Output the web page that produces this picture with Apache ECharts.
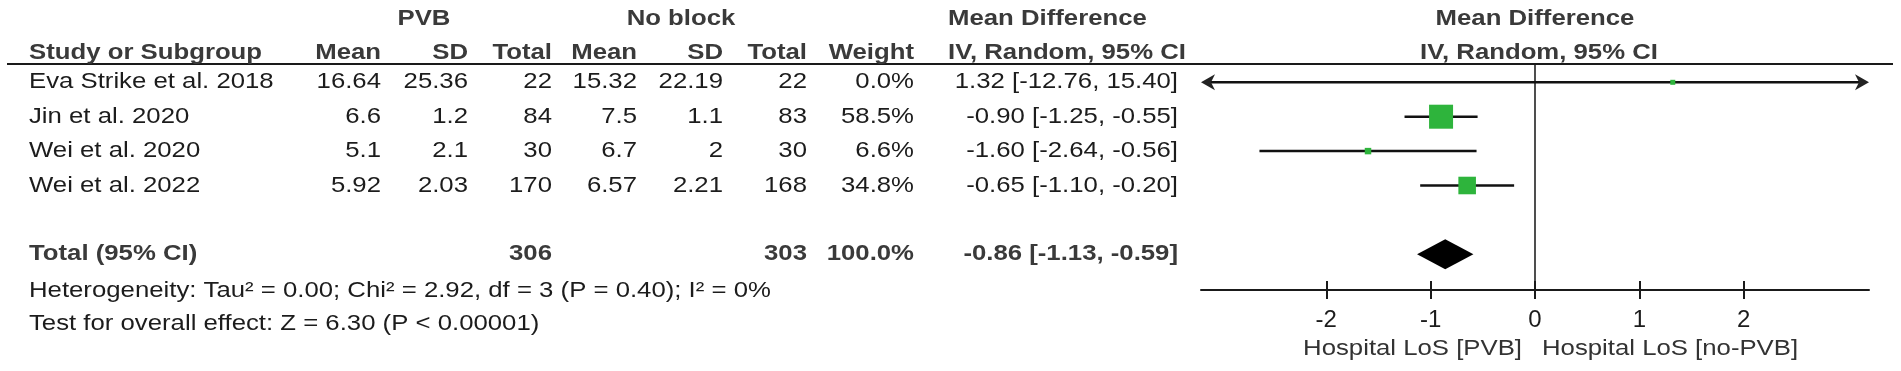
<!DOCTYPE html>
<html>
<head>
<meta charset="utf-8">
<script src="https://cdn.jsdelivr.net/npm/echarts@6/dist/echarts.min.js"></script>
<style>
  html, body { margin: 0; padding: 0; background: #fff; }
  #chart { width: 1901px; height: 371px; }
</style>
</head>
<body>
<div id="chart"></div>
<script>
// ---- data ----
const studies = ['Eva Strike et al. 2018', 'Jin et al. 2020', 'Wei et al. 2020', 'Wei et al. 2022'];
const pvbMean = [16.64, 6.6, 5.1, 5.92];
const pvbSd = [25.36, 1.2, 2.1, 2.03];
const pvbTotal = [22, 84, 30, 170];
const noBlockMean = [15.32, 7.5, 6.7, 6.57];
const noBlockSd = [22.19, 1.1, 2, 2.21];
const noBlockTotal = [22, 83, 30, 168];
const weights = [0.0, 58.5, 6.6, 34.8];
const meanDiff = [1.32, -0.90, -1.60, -0.65];
const ciLow = [-12.76, -1.25, -2.64, -1.10];
const ciHigh = [15.40, -0.55, -0.56, -0.20];

const pooled = { pvbTotal: 306, noBlockTotal: 303, weight: 100.0, md: -0.86, lo: -1.13, hi: -0.59 };
const heterogeneity = 'Heterogeneity: Tau\u00b2 = 0.00; Chi\u00b2 = 2.92, df = 3 (P = 0.40); I\u00b2 = 0%';
const overallEffect = 'Test for overall effect: Z = 6.30 (P < 0.00001)';

const tickValues = [-2, -1, 0, 1, 2];
const favoursLeft = 'Hospital LoS [PVB]';
const favoursRight = 'Hospital LoS [no-PVB]';

// ---- layout ----
const W = 1901, H = 371;
const ROW_Y0 = 82.3, ROW_STEP = 34.4;     // pixel centre of first study row, row spacing
const rowOf = px => (px - ROW_Y0) / ROW_STEP;
const TOTAL_ROW = 5;
const X_MIN = -3.2, X_MAX = 3.2;
const PLOT_TOP = 64, PLOT_BOTTOM = 290, PLOT_LEFT = 1201, PLOT_RIGHT = 1869;

const FONT = 'Liberation Sans, Arial, Helvetica, sans-serif';
const FS = 22;
const STRETCH = 1.17;   // the original figure's lettering is a bit wider than plain Arial
const TEXT = '#1c1c1c';
const HEAD = '#3a3a3a';
const GREEN = '#2eb43c';

const col = { study: 29, pvbMean: 381, pvbSd: 468, pvbTotal: 552, nbMean: 637, nbSd: 723, nbTotal: 807, weight: 914, ci: 1178 };

const fmtCi = (m, l, h) => m.toFixed(2) + ' [' + l.toFixed(2) + ', ' + h.toFixed(2) + ']';

// table cells
const cells = [];
function cell(x, row, text, align, bold) {
  cells.push({ value: [x, row], text: String(text), align: align, bold: !!bold });
}
const topRow = rowOf(19);
cell(424, topRow, 'PVB', 'center', true);
cell(681, topRow, 'No block', 'center', true);
cell(948, topRow, 'Mean Difference', 'left', true);
const hRow = rowOf(53);
cell(col.study, hRow, 'Study or Subgroup', 'left', true);
cell(col.pvbMean, hRow, 'Mean', 'right', true);
cell(col.pvbSd, hRow, 'SD', 'right', true);
cell(col.pvbTotal, hRow, 'Total', 'right', true);
cell(col.nbMean, hRow, 'Mean', 'right', true);
cell(col.nbSd, hRow, 'SD', 'right', true);
cell(col.nbTotal, hRow, 'Total', 'right', true);
cell(col.weight, hRow, 'Weight', 'right', true);
cell(948, hRow, 'IV, Random, 95% CI', 'left', true);

for (let i = 0; i < studies.length; i++) {
  cell(col.study, i, studies[i], 'left');
  cell(col.pvbMean, i, pvbMean[i], 'right');
  cell(col.pvbSd, i, pvbSd[i], 'right');
  cell(col.pvbTotal, i, pvbTotal[i], 'right');
  cell(col.nbMean, i, noBlockMean[i], 'right');
  cell(col.nbSd, i, noBlockSd[i], 'right');
  cell(col.nbTotal, i, noBlockTotal[i], 'right');
  cell(col.weight, i, weights[i].toFixed(1) + '%', 'right');
  cell(col.ci, i, fmtCi(meanDiff[i], ciLow[i], ciHigh[i]), 'right');
}
cell(col.study, TOTAL_ROW, 'Total (95% CI)', 'left', true);
cell(col.pvbTotal, TOTAL_ROW, pooled.pvbTotal, 'right', true);
cell(col.nbTotal, TOTAL_ROW, pooled.noBlockTotal, 'right', true);
cell(col.weight, TOTAL_ROW, pooled.weight.toFixed(1) + '%', 'right', true);
cell(col.ci, TOTAL_ROW, fmtCi(pooled.md, pooled.lo, pooled.hi), 'right', true);
cell(col.study, rowOf(291), heterogeneity, 'left');
cell(col.study, rowOf(324), overallEffect, 'left');

// texts hanging on the plot's zero line
const plotTexts = [
  { value: [0, topRow], text: 'Mean Difference', align: 'center', bold: true, dx: 0 },
  { value: [0, hRow], text: 'IV, Random, 95% CI', align: 'center', bold: true, dx: 4 },
  { value: [0, rowOf(349)], text: favoursLeft, align: 'right', bold: false, dx: -13, color: '#333' },
  { value: [0, rowOf(349)], text: favoursRight, align: 'left', bold: false, dx: 7, color: '#333' }
];

function textItem(list) {
  return function (params, api) {
    const c = list[params.dataIndex];
    const p = api.coord([api.value(0), api.value(1)]);
    return {
      type: 'text',
      x: p[0] + (c.dx || 0),
      y: p[1],
      scaleX: STRETCH,
      style: {
        text: c.text,
        fill: c.color || (c.bold ? HEAD : TEXT),
        fontFamily: FONT,
        fontSize: FS,
        fontWeight: c.bold ? 'bold' : 'normal',
        align: c.align,
        verticalAlign: 'middle'
      }
    };
  };
}

function arrowHead(p, dir) {
  return {
    type: 'polygon',
    shape: { points: [[p[0], p[1]], [p[0] - dir * 14, p[1] - 8], [p[0] - dir * 10, p[1]], [p[0] - dir * 14, p[1] + 8]] },
    style: { fill: '#222' }
  };
}

const ciData = studies.map((s, i) => [ciLow[i], ciHigh[i], i]);
const pointData = studies.map((s, i) => [meanDiff[i], i]);

const chart = echarts.init(document.getElementById('chart'));
chart.setOption({
  animation: false,
  backgroundColor: '#fff',
  grid: [
    { left: 0, right: 0, top: 0, bottom: 0, outerBoundsMode: 'none' },
    { left: PLOT_LEFT, right: W - PLOT_RIGHT, top: PLOT_TOP, bottom: H - PLOT_BOTTOM, outerBoundsMode: 'none' }
  ],
  xAxis: [
    { gridIndex: 0, type: 'value', min: 0, max: W, show: false },
    {
      gridIndex: 1, type: 'value', min: X_MIN, max: X_MAX, position: 'bottom',
      axisLine: { show: true, onZero: false, lineStyle: { color: '#1a1a1a', width: 2 } },
      axisTick: { show: true, length: 9, customValues: tickValues, lineStyle: { color: '#1a1a1a', width: 2 } },
      axisLabel: { show: true, customValues: tickValues, margin: 18, color: TEXT, fontSize: 24, fontFamily: FONT },
      splitLine: { show: false }
    },
    {
      gridIndex: 1, type: 'value', min: X_MIN, max: X_MAX, position: 'bottom',
      axisLine: { show: false, onZero: false },
      axisTick: { show: true, inside: true, length: 9, customValues: tickValues, lineStyle: { color: '#1a1a1a', width: 2 } },
      axisLabel: { show: false },
      splitLine: { show: false }
    }
  ],
  yAxis: [
    { gridIndex: 0, type: 'value', inverse: true, min: rowOf(0), max: rowOf(H), show: false },
    {
      gridIndex: 1, type: 'value', inverse: true, min: rowOf(PLOT_TOP), max: rowOf(PLOT_BOTTOM),
      axisLine: { show: true, onZero: true, lineStyle: { color: '#222', width: 1.6 } },
      axisTick: { show: false },
      axisLabel: { show: false },
      splitLine: { show: false }
    }
  ],
  graphic: [
    { type: 'line', shape: { x1: 7, y1: PLOT_TOP, x2: 1893, y2: PLOT_TOP }, style: { stroke: '#1a1a1a', lineWidth: 2 }, z: 1 }
  ],
  series: [
    {
      name: 'table',
      type: 'custom',
      xAxisIndex: 0,
      yAxisIndex: 0,
      data: cells.map(c => c.value),
      renderItem: textItem(cells)
    },
    {
      name: 'plotText',
      type: 'custom',
      xAxisIndex: 1,
      yAxisIndex: 1,
      clip: false,
      data: plotTexts.map(c => c.value),
      renderItem: textItem(plotTexts)
    },
    {
      name: 'ci',
      type: 'custom',
      xAxisIndex: 1,
      yAxisIndex: 1,
      encode: { x: [0, 1], y: 2 },
      data: ciData,
      renderItem: function (params, api) {
        const lo = api.value(0), hi = api.value(1), row = api.value(2);
        const a = api.coord([Math.max(lo, X_MIN), row]);
        const b = api.coord([Math.min(hi, X_MAX), row]);
        const children = [{
          type: 'line',
          shape: { x1: a[0] + (lo < X_MIN ? 8 : 0), y1: a[1], x2: b[0] - (hi > X_MAX ? 8 : 0), y2: b[1] },
          style: { stroke: '#111', lineWidth: 2.5 }
        }];
        if (lo < X_MIN) children.push(arrowHead(a, -1));
        if (hi > X_MAX) children.push(arrowHead(b, 1));
        return { type: 'group', children: children };
      },
      z: 2
    },
    {
      name: 'studies',
      type: 'scatter',
      xAxisIndex: 1,
      yAxisIndex: 1,
      data: pointData,
      symbol: 'rect',
      symbolSize: function (val, params) {
        return Math.max(5, 24 * Math.pow(weights[params.dataIndex] / 58.5, 0.6));
      },
      itemStyle: { color: GREEN, opacity: 1 },
      z: 3
    },
    {
      name: 'pooled',
      type: 'custom',
      xAxisIndex: 1,
      yAxisIndex: 1,
      encode: { x: [0, 1, 2], y: 3 },
      data: [[pooled.lo, pooled.md, pooled.hi, TOTAL_ROW]],
      renderItem: function (params, api) {
        const row = api.value(3);
        const l = api.coord([api.value(0), row]);
        const m = api.coord([api.value(1), row]);
        const r = api.coord([api.value(2), row]);
        return {
          type: 'polygon',
          shape: { points: [l, [m[0], m[1] - 15], r, [m[0], m[1] + 15]] },
          style: { fill: '#000' }
        };
      },
      z: 3
    }
  ]
});
</script>
</body>
</html>
